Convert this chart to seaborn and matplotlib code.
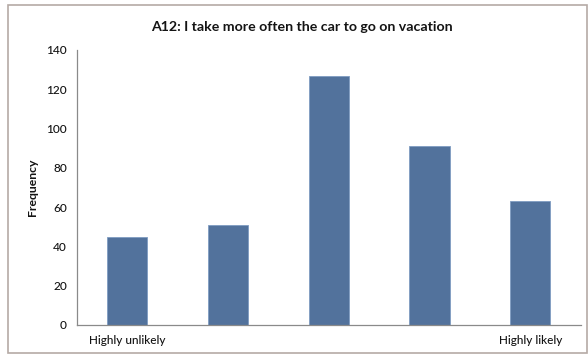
import matplotlib
matplotlib.use("Agg")
import matplotlib.pyplot as plt
import seaborn as sns
import pandas as pd
from matplotlib.patches import Rectangle

# Survey answers on a 5-point scale
scale_points = [1, 2, 3, 4, 5]
frequency = [45, 51, 127, 91, 63]
tick_labels = ["Highly unlikely", "", "", "", "Highly likely"]
y_ticks = [0, 20, 40, 60, 80, 100, 120, 140]

title = "A12: I take more often the car to go on vacation"
y_label = "Frequency"

df = pd.DataFrame({"answer": scale_points, "count": frequency})

sns.set_style("white")
plt.rcParams["font.family"] = ["Lato", "DejaVu Sans"]

text_color = "#141414"
bar_color = "#52729c"
axis_color = "#8a8a8a"

fig = plt.figure(figsize=(5.88, 3.56), dpi=100)
ax = fig.add_axes([0.1304, 0.0871, 0.8572, 0.7725])

sns.barplot(data=df, x="answer", y="count", color=bar_color, width=0.4,
            saturation=1, edgecolor="#7f9cc2", linewidth=0.6, ax=ax)

ax.set_xlim(-0.5, len(scale_points) - 0.5)
ax.set_ylim(0, 140)
ax.set_yticks(y_ticks)
ax.set_yticklabels([str(t) for t in y_ticks], fontsize=8.6, color=text_color,
                   fontweight="medium")

# Category labels under bars, tick marks on category boundaries
ax.set_xticks(range(len(scale_points)))
ax.set_xticklabels(tick_labels, fontsize=8.5, color=text_color, fontweight="medium")
ax.set_xticks([i - 0.5 for i in range(len(scale_points) + 1)], minor=True)
ax.tick_params(axis="x", which="major", length=0, pad=7)
ax.tick_params(axis="x", which="minor", length=4, width=0.8, color=axis_color, direction="out")
ax.tick_params(axis="y", length=4, width=0.8, color=axis_color, direction="out", pad=3)

for side in ("top", "right"):
    ax.spines[side].set_visible(False)
for side in ("left", "bottom"):
    ax.spines[side].set_color(axis_color)
    ax.spines[side].set_linewidth(0.9)

ax.set_xlabel("")
ax.set_ylabel(y_label, fontsize=8.8, fontweight="bold", color=text_color, labelpad=6)

fig.text(0.513, 0.924, title, ha="center", va="center", fontsize=10.2,
         fontweight="bold", color=text_color)

# Outer chart frame
fig.patches.append(Rectangle((8 / 588, 3 / 356), 579 / 588, 348 / 356,
                             transform=fig.transFigure, fill=False,
                             edgecolor="#b5aaa5", linewidth=1.2))

fig.savefig("out.png", dpi=100, facecolor="white")
